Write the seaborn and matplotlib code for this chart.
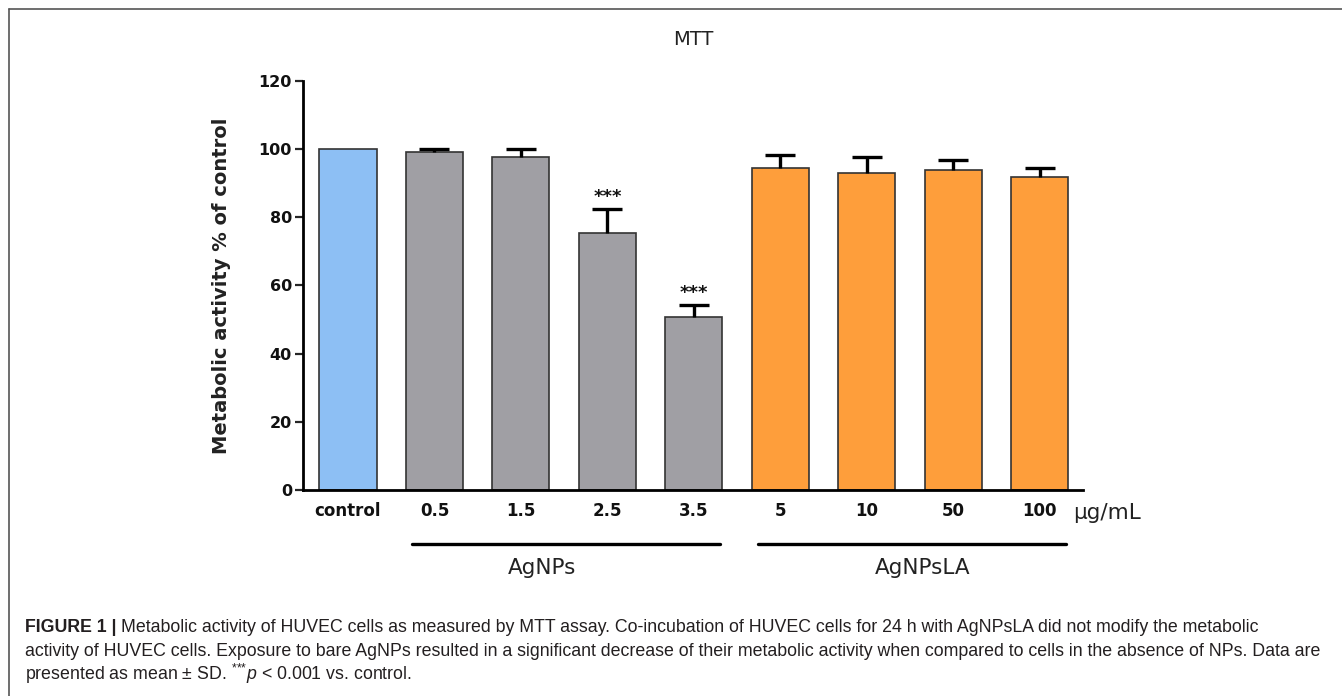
import numpy as np
import pandas as pd
import matplotlib
matplotlib.use('Agg')
import matplotlib.pyplot as plt
import matplotlib.transforms as mtransforms
from matplotlib.lines import Line2D
import seaborn as sns

# values
categories = ['control', '0.5', '1.5', '2.5', '3.5', '5', '10', '50', '100']
groups = ['control', 'AgNPs', 'AgNPs', 'AgNPs', 'AgNPs',
          'AgNPsLA', 'AgNPsLA', 'AgNPsLA', 'AgNPsLA']
means = [100, 99.2, 97.8, 75.5, 50.9, 94.4, 93.1, 94.0, 91.8]
sds = [0, 0.8, 2.2, 6.9, 3.4, 3.9, 4.7, 2.9, 2.7]
stars = ['', '', '', '***', '***', '', '', '', '']
yticks = [0, 20, 40, 60, 80, 100, 120]

palette = {'control': '#8DBFF4', 'AgNPs': '#A09FA4', 'AgNPsLA': '#FE9E3B'}

df = pd.DataFrame({'dose': categories, 'group': groups, 'mean': means, 'sd': sds})

sns.set_style('white')
plt.rcParams['font.family'] = ['DejaVu Sans']
plt.rcParams['mathtext.fontset'] = 'custom'
plt.rcParams['mathtext.rm'] = 'Liberation Sans'
plt.rcParams['mathtext.it'] = 'Liberation Sans:italic'

fig = plt.figure(figsize=(13.42, 6.96), dpi=100)
ax = fig.add_axes([0.2258, 0.296, 0.5812, 0.5876])

sns.barplot(data=df, x='dose', y='mean', hue='group', palette=palette,
            saturation=1, dodge=False, width=0.66, legend=False,
            edgecolor='#333333', linewidth=1.2, ax=ax)

# upper error bars only
xpos = np.arange(len(categories))
sd_arr = np.array(sds)
mask = sd_arr > 0
eb = ax.errorbar(xpos[mask], np.array(means)[mask],
                 yerr=[np.zeros(mask.sum()), sd_arr[mask]],
                 fmt='none', ecolor='black', elinewidth=2.4,
                 capsize=11, capthick=2.4, zorder=3)
eb[1][0].set_visible(False)

for i, s in enumerate(stars):
    if s:
        ax.text(i, means[i] + sds[i] + 3.5, s, ha='center', va='center',
                fontsize=13, fontweight='bold', color='#111111')

ax.set_xlim(-0.52, 8.5)
ax.set_ylim(0, 120)
ax.set_yticks(yticks)
ax.set_xlabel('')
ax.set_ylabel('Metabolic activity % of control', fontsize=14,
              fontweight='bold', color='#222222', labelpad=20)
ax.set_title('MTT', fontsize=14, color='#222222', pad=26)

sns.despine(ax=ax)
for sp in ['left', 'bottom']:
    ax.spines[sp].set_linewidth(2)
    ax.spines[sp].set_color('black')
ax.tick_params(axis='y', length=6, width=1.6, pad=2, labelsize=11.5,
               direction='out', left=True)
ax.tick_params(axis='x', length=0, pad=9, labelsize=12)
for lab in ax.get_xticklabels() + ax.get_yticklabels():
    lab.set_fontweight('bold')
    lab.set_color('#111111')

ax.text(0.987, -0.056, 'µg/mL', transform=ax.transAxes, ha='left',
        va='center', fontsize=15.5, color='#222222')

# group lines under the tick labels
trans = mtransforms.blended_transform_factory(ax.transData, ax.transAxes)
group_names = ['AgNPs', 'AgNPsLA']
label_shift = {'AgNPs': -0.28, 'AgNPsLA': 0.12}
for g in group_names:
    idx = [i for i, gg in enumerate(groups) if gg == g]
    x0, x1 = idx[0] - 0.26, idx[-1] + 0.3
    ax.add_line(Line2D([x0, x1], [-0.132, -0.132], transform=trans,
                       color='black', lw=2.4, clip_on=False))
    ax.text((x0 + x1) / 2 + label_shift[g], -0.191, g, transform=trans,
            ha='center', va='center', fontsize=15.5, color='#222222')

# frame of the figure panel
fig.add_artist(Line2D([9 / 1342, 1], [1 - 9 / 696, 1 - 9 / 696],
                      transform=fig.transFigure, color='#555555', lw=1.2))
fig.add_artist(Line2D([9 / 1342, 9 / 1342], [0, 1 - 9 / 696],
                      transform=fig.transFigure, color='#555555', lw=1.2))

# caption
cap_kw = dict(fontsize=12.75, family='Liberation Sans', color='#231F20',
              va='center', ha='left')
x_cap = 25 / 1342
t0 = fig.text(x_cap, 1 - 628 / 696, 'FIGURE 1 | ', fontweight='bold', **cap_kw)
fig.canvas.draw()
bb = t0.get_window_extent()
fig.text(bb.x1 / fig.bbox.width, 1 - 628 / 696,
         'Metabolic activity of HUVEC cells as measured by MTT assay. '
         'Co-incubation of HUVEC cells for 24 h with AgNPsLA did not modify the metabolic',
         **cap_kw)
fig.text(x_cap, 1 - 651 / 696,
         'activity of HUVEC cells. Exposure to bare AgNPs resulted in a significant '
         'decrease of their metabolic activity when compared to cells in the absence of NPs. Data are',
         **cap_kw)
fig.text(x_cap, 1 - 674 / 696,
         r'presented as mean ± SD. $^{{*}{*}{*}}\mathit{p}$ < 0.001 vs. control.',
         **cap_kw)

fig.savefig('out.png', dpi=100, facecolor='white')
